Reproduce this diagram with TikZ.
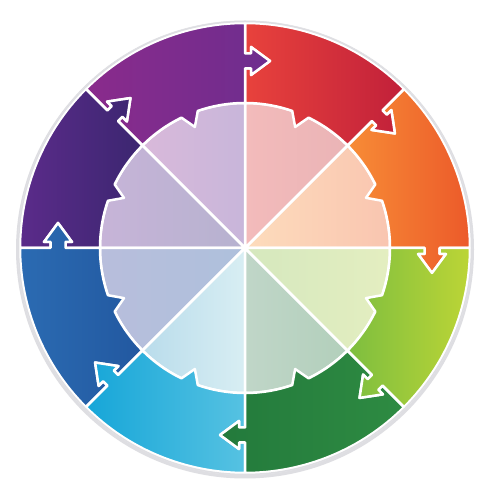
\documentclass[tikz,border=0pt]{standalone}
\usepackage{xcolor}
\usepackage{tikz}

\begin{document}
\begin{tikzpicture}[x=1pt,y=1pt]
\definecolor{fillColor}{RGB}{255,255,255}
\definecolor{rimColor}{RGB}{222,222,226}
\definecolor{orangeA}{RGB}{247,140,54}
\definecolor{orangeB}{RGB}{236,90,42}
\definecolor{redA}{RGB}{232,66,60}
\definecolor{redB}{RGB}{193,32,58}
\definecolor{purpleA}{RGB}{138,43,140}
\definecolor{purpleB}{RGB}{110,45,142}
\definecolor{indigoA}{RGB}{91,43,138}
\definecolor{indigoB}{RGB}{59,38,112}
\definecolor{blueA}{RGB}{43,107,178}
\definecolor{blueB}{RGB}{34,88,160}
\definecolor{cyanA}{RGB}{22,166,216}
\definecolor{cyanB}{RGB}{86,194,226}
\definecolor{dgreenA}{RGB}{35,122,60}
\definecolor{dgreenB}{RGB}{46,139,66}
\definecolor{limeA}{RGB}{125,190,63}
\definecolor{limeB}{RGB}{188,213,54}
\definecolor{peachA}{RGB}{253,220,188}
\definecolor{peachB}{RGB}{249,197,176}
\definecolor{pinkA}{RGB}{243,187,187}
\definecolor{pinkB}{RGB}{234,180,182}
\definecolor{lavA}{RGB}{217,185,218}
\definecolor{lavB}{RGB}{200,182,218}
\definecolor{lilacA}{RGB}{199,180,216}
\definecolor{lilacB}{RGB}{182,178,207}
\definecolor{pblueA}{RGB}{184,190,220}
\definecolor{pblueB}{RGB}{174,192,220}
\definecolor{pcyanA}{RGB}{185,220,235}
\definecolor{pcyanB}{RGB}{216,238,243}
\definecolor{pgreyA}{RGB}{192,214,200}
\definecolor{pgreyB}{RGB}{178,207,187}
\definecolor{pgreenA}{RGB}{213,232,190}
\definecolor{pgreenB}{RGB}{228,238,192}
\path[use as bounding box,fill=fillColor] (0,0) rectangle (494,500);
\begin{scope}[shift={(245,252)}]
\fill[rimColor] (0,-1.5) circle (229);
\fill[white] (0,0) circle (227);

\foreach \i in {0,...,7}{
\begin{scope}[rotate=\i*45-90]
\coordinate (a\i-1) at ( 0.00,179.50);
\coordinate (a\i-2) at ( 6.00,179.50);
\coordinate (a\i-3) at ( 6.00,173.00);
\coordinate (a\i-4) at (25.00,187.00);
\coordinate (a\i-5) at ( 6.00,201.00);
\coordinate (a\i-6) at ( 6.00,194.50);
\coordinate (a\i-7) at ( 0.00,194.50);
\end{scope}
}

\foreach \i/\pa/\pb [evaluate=\i as \a using \i*45] in {0/peachA/peachB,1/pinkA/pinkB,2/lavA/lavB,3/lilacA/lilacB,4/pblueA/pblueB,5/pcyanA/pcyanB,6/pgreyA/pgreyB,7/pgreenA/pgreenB}{
\path[draw=white,line width=2.5,line join=round,left color=\pa,right color=\pb] (0,0) -- (\a:145) arc[start angle=\a,end angle=\a+45,radius=145] -- cycle;
}

\foreach \i/\ca/\cb [evaluate=\i as \a using \i*45, evaluate=\i as \m using \i*45+22.5, evaluate=\i as \j using {int(mod(\i+1,8))}] in {0/orangeA/orangeB,1/redA/redB,2/purpleA/purpleB,3/indigoA/indigoB,4/blueA/blueB,5/cyanA/cyanB,6/dgreenA/dgreenB,7/limeA/limeB}{
\path[draw=white,line width=2.5,line join=round,left color=\ca,right color=\cb] (\a:145) -- (a\i-1) -- (a\i-2) -- (a\i-3) -- (a\i-4) -- (a\i-5) -- (a\i-6) -- (a\i-7) -- (\a:225)
 arc[start angle=\a,end angle=\a+45,radius=225]
 -- (a\j-7) -- (a\j-6) -- (a\j-5) -- (a\j-4) -- (a\j-3) -- (a\j-2) -- (a\j-1) -- ({\a+45}:145)
 arc[start angle=\a+45,end angle=\m+3.5,radius=145] -- (\m:131) -- ({\m-3.5}:145)
 arc[start angle=\m-3.5,end angle=\a,radius=145] -- cycle;
}

\draw[rimColor,line width=1.5] (0,0) circle (226.5);
\end{scope}
\end{tikzpicture}
\end{document}
